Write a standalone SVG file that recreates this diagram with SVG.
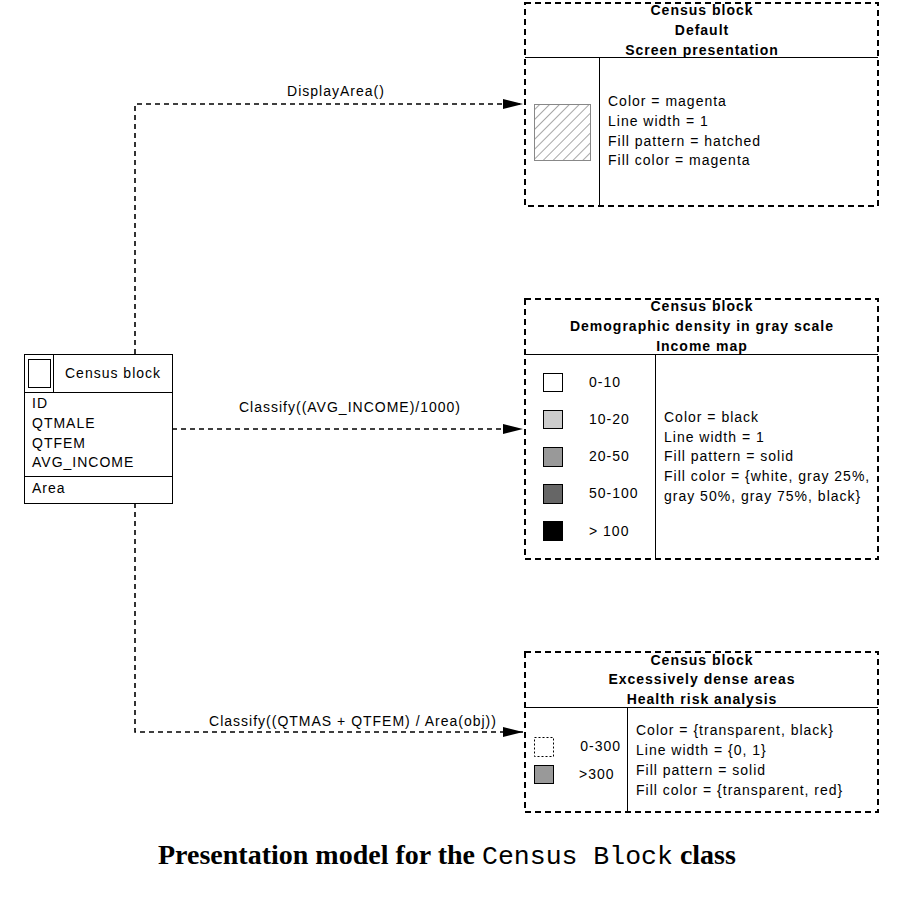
<svg xmlns="http://www.w3.org/2000/svg" width="899" height="905" viewBox="0 0 899 905">
<defs>
<style>
.t{font-family:"Liberation Sans",Arial,sans-serif;font-size:14px;letter-spacing:1px;fill:#000}
.b{font-weight:bold;text-anchor:middle}
.box{fill:#fff;stroke:#000;stroke-width:2;stroke-dasharray:6 4}
.ln{stroke:#000;stroke-width:1;fill:none}
.con{stroke:#000;stroke-width:1.6;fill:none;stroke-dasharray:5 4}
.sw{stroke:#000;stroke-width:1}
</style>
<marker id="arr" viewBox="0 0 20 10" refX="20" refY="5" markerWidth="20" markerHeight="10" markerUnits="userSpaceOnUse" orient="auto">
<path d="M0,0 L20,5 L0,10 Z" fill="#000"/>
</marker>
<pattern id="hatch" patternUnits="userSpaceOnUse" width="7" height="7" patternTransform="rotate(45)">
<line x1="0" y1="0" x2="0" y2="7" stroke="#777" stroke-width="1.3"/>
</pattern>
</defs>
<rect width="899" height="905" fill="#fff"/>

<g id="connectors">
<path class="con" d="M135,354 V104 H523" marker-end="url(#arr)"/>
<text class="t" x="336" y="96" text-anchor="middle">DisplayArea()</text>
<path class="con" d="M172,429 H523" marker-end="url(#arr)"/>
<text class="t" x="350" y="412" text-anchor="middle">Classify((AVG_INCOME)/1000)</text>
<path class="con" d="M135,503 V732 H523" marker-end="url(#arr)"/>
<text class="t" x="353" y="726" text-anchor="middle">Classify((QTMAS + QTFEM) / Area(obj))</text>
</g>

<g id="class-census-block">
<rect x="24.5" y="354.5" width="148" height="149" fill="#fff" stroke="#000" stroke-width="1"/>
<line class="ln" x1="24" y1="392.5" x2="172" y2="392.5"/>
<line class="ln" x1="24" y1="476.5" x2="172" y2="476.5"/>
<line class="ln" x1="53.5" y1="354" x2="53.5" y2="392"/>
<rect x="28.5" y="359.5" width="22" height="28" fill="#fff" stroke="#000" stroke-width="1"/>
<text class="t" x="65" y="378">Census block</text>
<text class="t" x="32" y="408">ID</text>
<text class="t" x="32" y="428">QTMALE</text>
<text class="t" x="32" y="448">QTFEM</text>
<text class="t" x="32" y="467">AVG_INCOME</text>
<text class="t" x="32" y="493">Area</text>
</g>

<g id="pres-default">
<rect class="box" x="525" y="3" width="353" height="203"/>
<line class="ln" x1="525" y1="57.5" x2="878" y2="57.5"/>
<line class="ln" x1="599.5" y1="57" x2="599.5" y2="206"/>
<text class="t b" x="702" y="15">Census block</text>
<text class="t b" x="702" y="35">Default</text>
<text class="t b" x="702" y="55">Screen presentation</text>
<rect x="534.5" y="104.5" width="56" height="56" fill="url(#hatch)" stroke="#888" stroke-width="1"/>
<text class="t" x="608" y="106">Color = magenta</text>
<text class="t" x="608" y="126">Line width = 1</text>
<text class="t" x="608" y="146">Fill pattern = hatched</text>
<text class="t" x="608" y="165">Fill color = magenta</text>
</g>

<g id="pres-density">
<rect class="box" x="525" y="299" width="353" height="260"/>
<line class="ln" x1="525" y1="354.5" x2="878" y2="354.5"/>
<line class="ln" x1="655.5" y1="354" x2="655.5" y2="559"/>
<text class="t b" x="702" y="311">Census block</text>
<text class="t b" x="702" y="331">Demographic density in gray scale</text>
<text class="t b" x="702" y="351">Income map</text>
<rect class="sw" x="543.5" y="373.5" width="19" height="18" fill="#fff"/>
<rect class="sw" x="543.5" y="410.5" width="19" height="18" fill="#ccc"/>
<rect class="sw" x="543.5" y="447.5" width="19" height="19" fill="#999"/>
<rect class="sw" x="543.5" y="484.5" width="19" height="19" fill="#666"/>
<rect class="sw" x="543.5" y="521.5" width="19" height="19" fill="#000"/>
<text class="t" x="589" y="387">0-10</text>
<text class="t" x="589" y="424">10-20</text>
<text class="t" x="589" y="461">20-50</text>
<text class="t" x="589" y="498">50-100</text>
<text class="t" x="589" y="536">&gt; 100</text>
<text class="t" x="664" y="422">Color = black</text>
<text class="t" x="664" y="442">Line width = 1</text>
<text class="t" x="664" y="461">Fill pattern = solid</text>
<text class="t" x="664" y="481">Fill color = {white, gray 25%,</text>
<text class="t" x="664" y="501">gray 50%, gray 75%, black}</text>
</g>

<g id="pres-dense">
<rect class="box" x="525" y="652" width="353" height="160"/>
<line class="ln" x1="525" y1="707.5" x2="878" y2="707.5"/>
<line class="ln" x1="627.5" y1="707" x2="627.5" y2="812"/>
<text class="t b" x="702" y="665">Census block</text>
<text class="t b" x="702" y="684">Excessively dense areas</text>
<text class="t b" x="702" y="704">Health risk analysis</text>
<rect x="534.5" y="737.5" width="19" height="19" fill="#fff" stroke="#000" stroke-width="1" stroke-dasharray="2 2"/>
<rect class="sw" x="534.5" y="765.5" width="19" height="18" fill="#999"/>
<text class="t" x="621" y="751" text-anchor="end">0-300</text>
<text class="t" x="579" y="779">&gt;300</text>
<text class="t" x="636" y="735">Color = {transparent, black}</text>
<text class="t" x="636" y="755">Line width = {0, 1}</text>
<text class="t" x="636" y="775">Fill pattern = solid</text>
<text class="t" x="636" y="795">Fill color = {transparent, red}</text>
</g>

<text x="158" y="864" style="font-family:'Liberation Serif','Times New Roman',serif;font-size:28px;font-weight:bold">Presentation model for the <tspan style="font-family:'Liberation Mono','Courier New',monospace;font-weight:normal;font-size:26.5px">Census Block</tspan> class</text>
</svg>
